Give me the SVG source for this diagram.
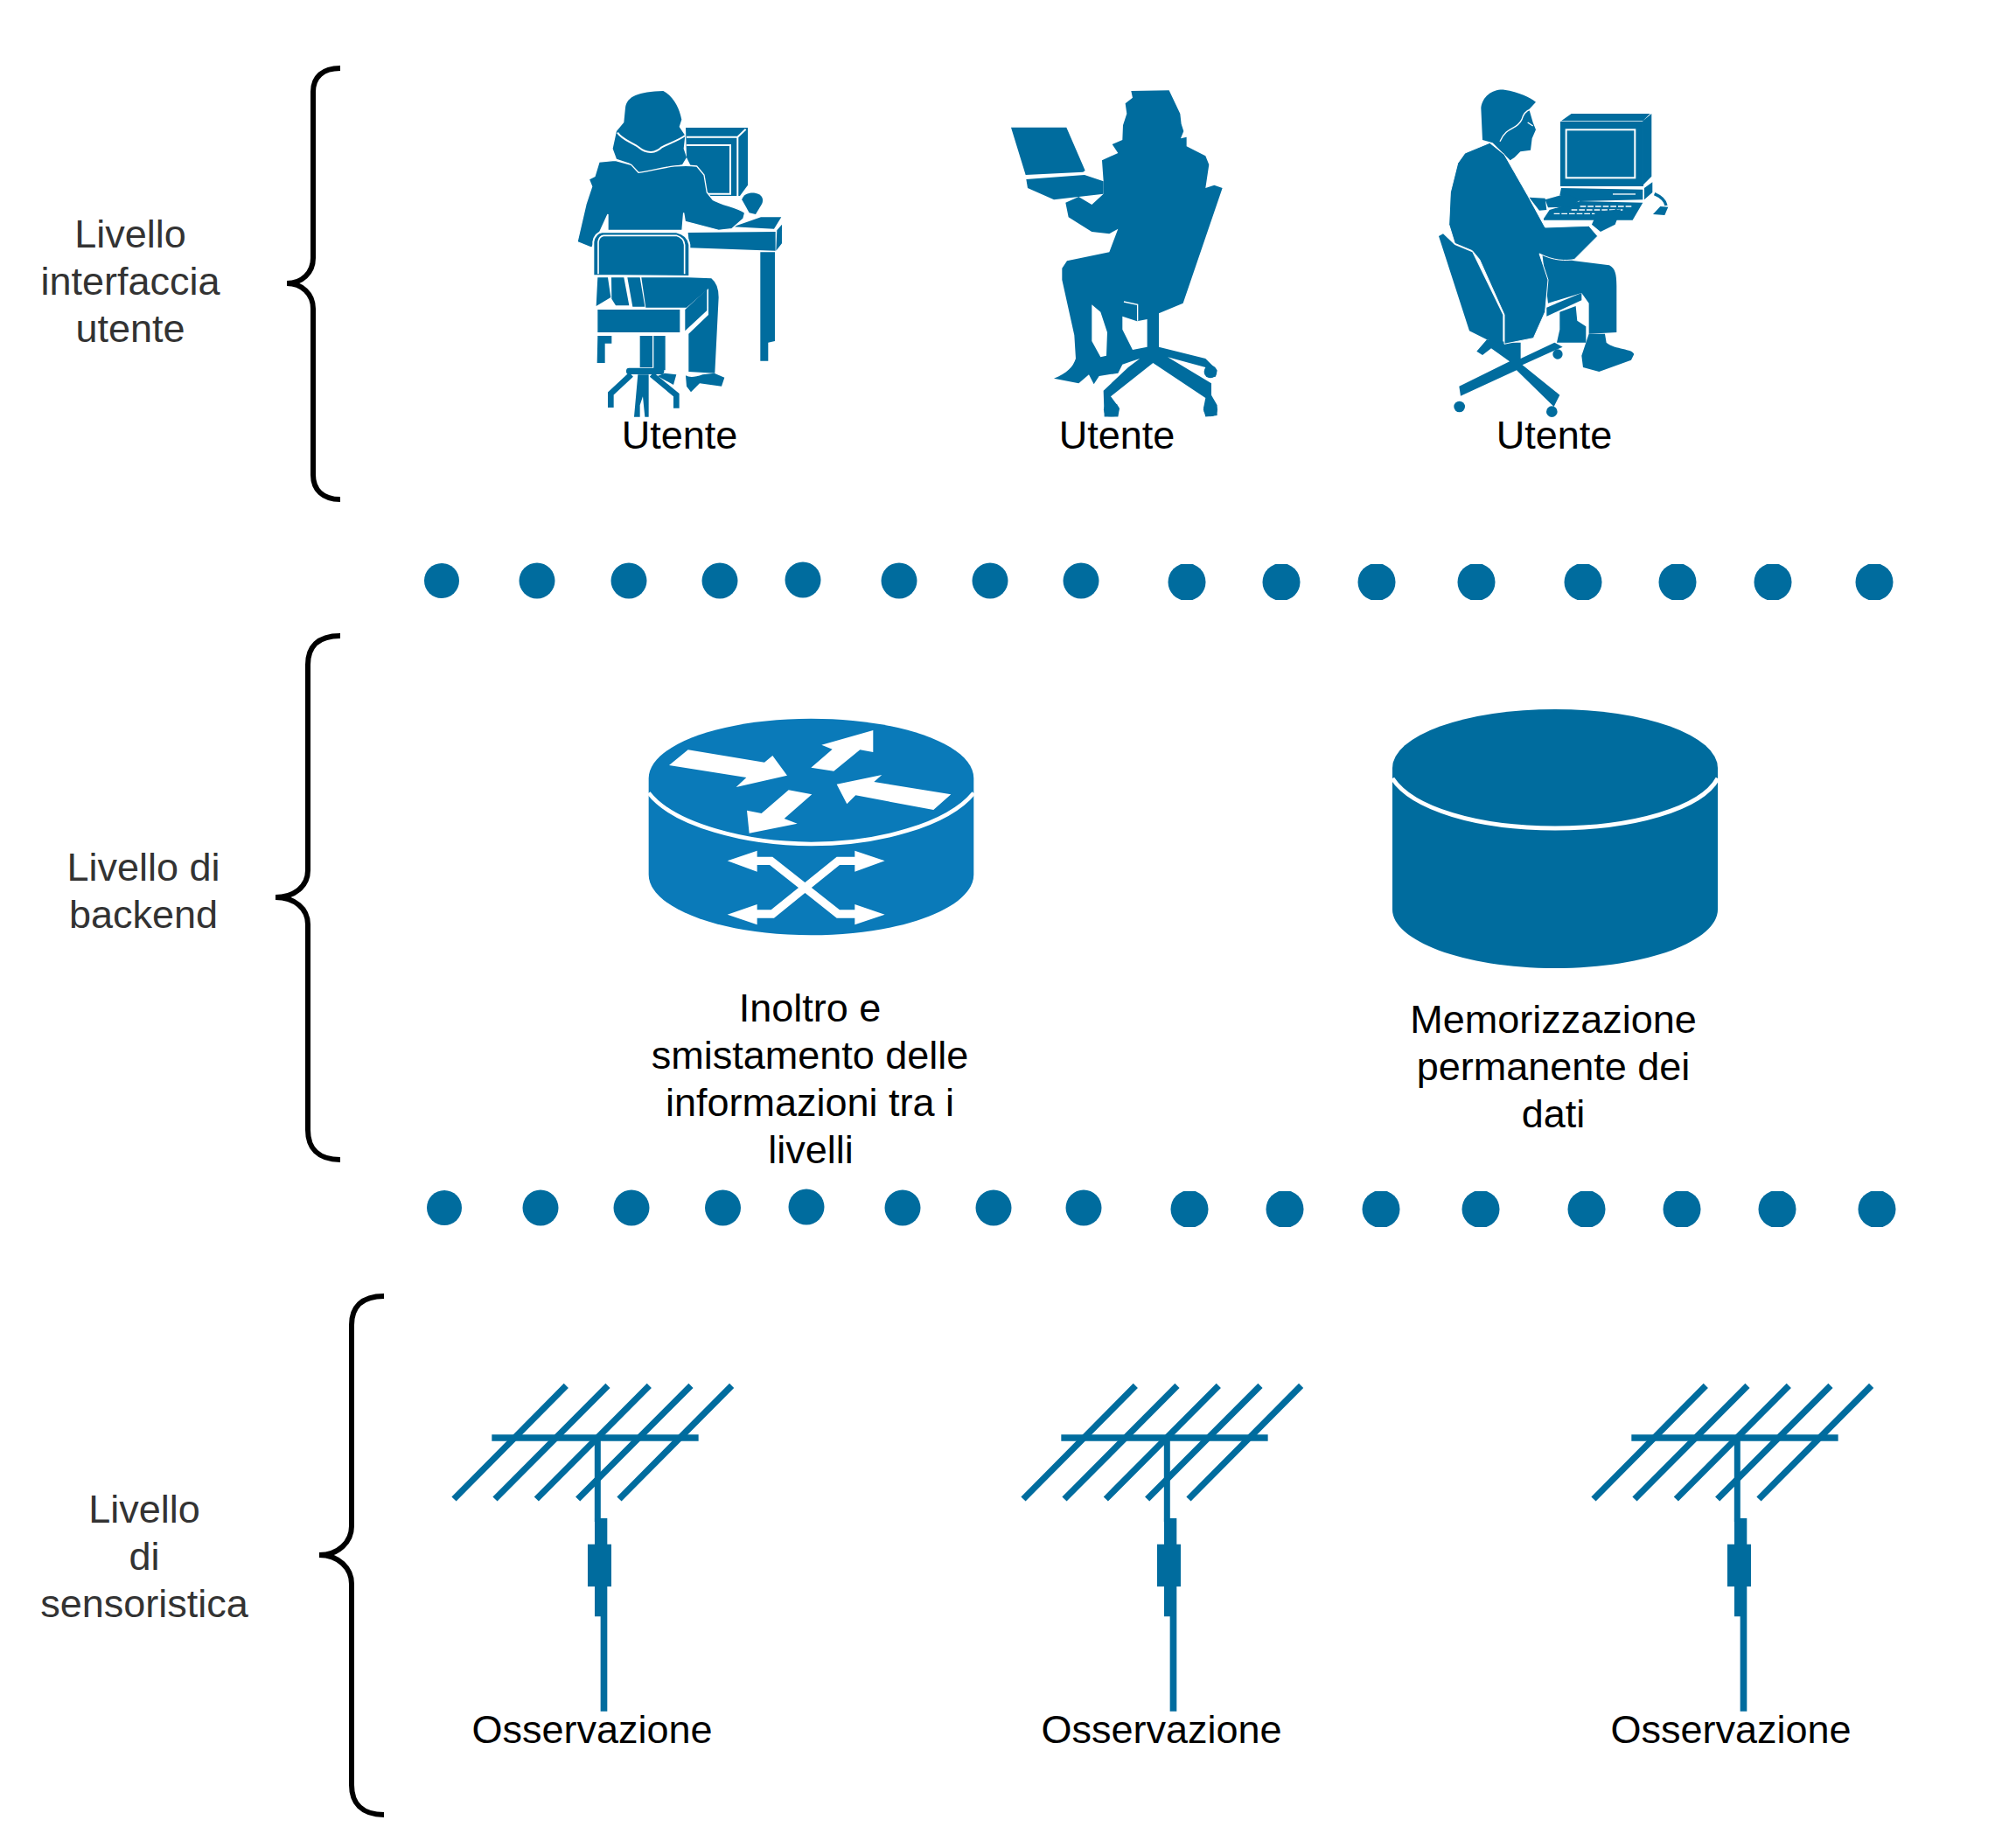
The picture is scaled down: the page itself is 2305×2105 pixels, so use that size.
<svg xmlns="http://www.w3.org/2000/svg" width="2305" height="2105" viewBox="0 0 2305 2105">
<style>
text{font-family:"Liberation Sans",Arial,sans-serif;font-size:45px;text-anchor:middle;fill:#000}
.lv{fill:#333}
.b{fill:none;stroke:#000;stroke-width:6}
.f{fill:#006c9e}
.w{fill:none;stroke:#fff;stroke-width:6}
.l{fill:none;stroke:#006c9e}
</style>
<defs>
<clipPath id="c1"><rect x="1300" y="645" width="900" height="41"/></clipPath>
<clipPath id="c2"><rect x="1300" y="1362" width="900" height="41"/></clipPath>
<g id="ant">
<path class="l" style="stroke-width:22" d="M57,462L442,73M198,462L585,73M340,462L727,73M482,462L870,73M624,462L1010,73"/>
<path class="l" style="stroke-width:22" d="M187,252H896"/>
<path class="l" style="stroke-width:21" d="M550,252V540"/>
<path class="f" d="M540,528H583V617H597V762H583V865H583V1190H560V865H540V762H516V617H540Z"/>
</g>
</defs>
<rect width="2305" height="2105" fill="#fff"/>
<g id="connectors">
<path class="b" d="M389,78C369,78 358,88 358,105V295C358,312 345,324 328,324C345,324 358,336 358,353V543C358,560 369,571 389,571"/>
<path class="b" d="M389,727C363,727 352,740 352,760V995C352,1013 337,1026 315,1026C337,1026 352,1039 352,1057V1292C352,1312 363,1326 389,1326"/>
<path class="b" d="M439,1482C413,1482 402,1495 402,1515V1745C402,1763 387,1778 365,1778C387,1778 402,1793 402,1811V2041C402,2061 413,2075 439,2075"/>
</g>
<g id="dots1" class="f">
<circle cx="505" cy="664" r="20"/><circle cx="614" cy="664" r="20.500"/><circle cx="719" cy="664" r="20.500"/><circle cx="823" cy="664" r="20.500"/><circle cx="918" cy="663" r="20.500"/><circle cx="1028" cy="664" r="20.500"/><circle cx="1132" cy="664" r="20.500"/><circle cx="1236" cy="664" r="20.500"/>
<g clip-path="url(#c1)"><circle cx="1357" cy="665.500" r="21.500"/><circle cx="1465" cy="665.500" r="21.500"/><circle cx="1574" cy="665.500" r="21.500"/><circle cx="1688" cy="665.500" r="21.500"/><circle cx="1810" cy="665.500" r="21.500"/><circle cx="1918" cy="665.500" r="21.500"/><circle cx="2027" cy="665.500" r="21.500"/><circle cx="2143" cy="665.500" r="21.500"/></g>
</g>
<g id="dots2" class="f">
<circle cx="508" cy="1381" r="20"/><circle cx="618" cy="1381" r="20.500"/><circle cx="722" cy="1381" r="20.500"/><circle cx="826.500" cy="1381" r="20.500"/><circle cx="922" cy="1380" r="20.500"/><circle cx="1032" cy="1381" r="20.500"/><circle cx="1136" cy="1381" r="20.500"/><circle cx="1239" cy="1381" r="20.500"/>
<g clip-path="url(#c2)"><circle cx="1360" cy="1382.500" r="21.500"/><circle cx="1469" cy="1382.500" r="21.500"/><circle cx="1579" cy="1382.500" r="21.500"/><circle cx="1693" cy="1382.500" r="21.500"/><circle cx="1814" cy="1382.500" r="21.500"/><circle cx="1923" cy="1382.500" r="21.500"/><circle cx="2032" cy="1382.500" r="21.500"/><circle cx="2146" cy="1382.500" r="21.500"/></g>
</g>
<g id="user1" transform="translate(630 80) scale(.3333)">
<path class="f" d="M462,198H675V395L648,432H530L465,300Z"/>
<path class="w" d="M465,230H640L668,203M640,230V435M465,258H615V425H535"/>
<path class="f" d="M718,625H768V930L745,935V998H718Z"/>
<path class="f" d="M470,558L770,555V620L475,610ZM775,550L792,530V595L772,620ZM625,538L720,505H790L765,545Z"/>
<path class="f" d="M655,445C660,425 680,420 700,422C725,425 732,445 722,462L702,495L680,490Z"/>
<path class="f" d="M255,130C260,90 300,75 385,72C420,90 440,130 448,170L440,195L460,225L455,270L465,300L450,325L400,335L300,355L270,320L225,305L212,270L225,210L250,180Z"/>
<path class="f" stroke="#fff" stroke-width="4" d="M165,315L220,310L275,325L300,352C360,345 420,320 500,330L525,360L535,420L555,445C590,465 640,470 665,490L660,510L620,545L575,550L460,520L455,490L450,550L195,550L195,495L170,550L140,610L90,590L120,460L140,400L130,375L150,365Z"/>
<path class="w" d="M228,215C245,240 280,250 300,265C330,290 360,285 380,265C410,250 440,240 460,225"/>
<path class="f" d="M160,712H195L205,780L155,810ZM207,712H250L268,808H222L208,785ZM262,712H305L322,812H280Z"/>
<path class="f" d="M470,712L550,715Q575,735 575,780L562,1040L472,1035V905L540,840V750L465,815H325L310,712Z"/>
<path class="f" stroke="#fff" stroke-width="6" d="M145,705V590Q150,560 175,556H430Q470,565 475,600V708Z"/>
<path class="w" style="stroke-width:5" d="M162,700V590Q165,570 180,568H430Q455,575 458,600V700"/>
<path class="f" d="M160,822H442V900H160ZM460,822L535,752V825L460,895ZM160,912H208V938H185V1005H158ZM305,912H348V1020H305ZM352,912H392V1030H352Z"/>
<path class="f" d="M462,1048Q480,1060 520,1045L560,1040L595,1055L585,1085L510,1075L480,1105L465,1085ZM390,1040L430,1045L420,1080L365,1050Z"/>
<rect class="f" x="258" y="1022" width="130" height="22" rx="10"/>
<path class="l" style="stroke-width:20" d="M275,1045L205,1110V1158M345,1045L430,1115V1160"/>
<path class="f" d="M285,1190L298,1045H335V1190H322L315,1120L305,1150V1190Z"/>
</g>
<g id="user2" transform="translate(1130 80) scale(.3333)">
<path class="f" d="M78,197H268L332,345L325,350L128,360ZM130,375L330,360L395,382V425L225,445L135,405Z"/>
<path class="f" d="M490,72L620,70L658,150L662,185L670,210L660,235L680,230V262L745,295L757,325L745,405L775,395L803,405L668,800L585,835V950L745,990L785,1030L780,1052L750,1050L745,1020L615,985L765,1075V1115L785,1150V1185L745,1190L738,1160L745,1125L565,1005L420,1120L450,1160L445,1190H398L395,1100L480,1020L520,990L490,1000L460,1010L445,1040L380,1050L362,1078L345,1045L310,1075L225,1058C270,1040 290,1020 300,990L295,910L253,720V680L270,655L415,625L445,545L415,562L355,555L275,505L265,455L310,435L355,462L395,425V380L390,310L445,285L425,255L460,240L462,190L475,150L470,115L495,95Z"/>
<circle class="f" cx="762" cy="1035" r="22"/><circle class="f" cx="762" cy="1165" r="24"/><circle class="f" cx="422" cy="1165" r="26"/>
<rect fill="#fff" x="380" y="1190" width="430" height="20"/>
<path fill="#fff" d="M355,805L385,830L408,900L405,980L385,985L355,930ZM460,845L510,862L545,855V950L495,960L460,890Z"/>
<path fill="none" stroke="#fff" stroke-width="4" d="M465,795L512,805V860"/>
</g>
<g id="user3" transform="translate(1620 80) scale(.3333)">
<path class="f" d="M495,175L530,150H800L775,175ZM775,175L805,150V365L775,395ZM780,405L808,385V420L780,445ZM495,405L775,410V445L560,450L490,430Z"/>
<rect class="f" x="492" y="177" width="285" height="222"/>
<rect class="w" x="512" y="205" width="236" height="165"/>
<path class="f" d="M435,510L455,480L560,450L775,455L740,515H435Z"/>
<path class="l" style="stroke-width:10" d="M815,425Q850,440 855,465"/>
<path class="f" d="M810,495L835,468L862,470L850,498Z"/>
<path fill="none" stroke="#fff" stroke-width="4" stroke-dasharray="20 6" d="M560,468H740M530,480H710M470,493H610"/>
<path fill="none" stroke="#fff" stroke-width="4" d="M672,426H750"/>
<path class="f" d="M328,935H356V990L472,935L500,950L362,1012L490,1115L470,1155L342,1030L150,1118L145,1085L318,1000L255,955L225,978L205,965L240,925Z"/>
<circle class="f" cx="146" cy="1155" r="19"/><circle class="f" cx="463" cy="1172" r="19"/><circle class="f" cx="483" cy="975" r="17"/>
<rect fill="#fff" x="430" y="1191" width="70" height="12"/>
<path class="f" d="M445,815L565,765V790L445,845ZM490,830L545,810L550,860L580,880V935H480L490,890Z"/>
<path class="f" d="M430,630L540,655L660,670C680,680 685,700 685,740V900L590,905V800L565,765L450,800Z"/>
<path class="f" d="M590,905H645L650,935C680,960 740,955 745,975L735,995L625,1035L570,1020L565,980Z"/>
<path class="f" d="M385,437L440,440L445,480L420,482ZM440,445L510,425L560,445L530,470L450,472ZM620,485L700,478L680,530L630,555L600,530Z"/>
<path class="f" d="M75,570L90,562L130,600L190,625L295,840V940L240,925L180,895Z"/>
<path class="f" d="M220,130C225,90 260,65 300,68C350,75 390,95 408,110L385,135L398,180L408,205L395,235L390,275L355,280L335,300L320,310L260,250L225,240Z"/>
<path class="w" style="stroke-width:4" d="M285,245C310,190 340,210 360,170C365,150 375,140 390,135M380,180L398,192"/>
<path class="f" stroke="#fff" stroke-width="3" d="M250,250L300,290L380,430L440,540L590,535L620,570L540,650C510,655 470,655 420,630L450,720L440,830L400,920L300,940V840L215,650L190,620L130,595L110,530L115,420L140,320L165,285Z"/>
</g>
<g id="router" transform="translate(720 800) scale(.3333)">
<path fill="#0a7ab9" d="M65,270V600C65,715 315,808 622,808C930,808 1180,715 1180,600V270C1180,155 930,65 622,65C315,65 65,155 65,270Z"/>
<path fill="none" stroke="#fff" stroke-width="14" d="M65,320C150,430 400,495 622,495C850,495 1090,430 1180,320"/>
<path fill="#fff" d="M135,225L200,172L462,215L490,192L540,260L365,300L400,267ZM622,233L695,170L658,155L835,105V180L790,172L700,245ZM710,290L865,258L838,282L1102,325L1042,378L775,328L745,358ZM545,310L625,325L530,408L575,425L410,458L402,380L452,390ZM335,553L437,518V590ZM875,553L772,518V590ZM335,737L437,702V772ZM875,737L772,702V772Z"/>
<path fill="none" stroke="#fff" stroke-width="28" d="M430,553H485L715,735H780M430,735H490L715,553H780"/>
</g>
<g id="db" class="f">
<path d="M1592,878V1040C1592,1075 1672,1107 1778,1107C1885,1107 1964,1075 1964,1040V878Z"/>
<ellipse cx="1778" cy="878" rx="186" ry="67"/>
<path fill="none" stroke="#fff" stroke-width="5" d="M1592,890C1615,925 1690,947 1778,947C1866,947 1945,925 1964,890"/>
</g>
<g id="ant1" transform="translate(500 1560) scale(.3333)"><use href="#ant"/></g>
<g id="ant2" transform="translate(1151 1560) scale(.3333)"><use href="#ant"/></g>
<g id="ant3" transform="translate(1803 1560) scale(.3333)"><use href="#ant"/></g>
<g id="labels">
<text x="777" y="513">Utente</text><text x="1277" y="513">Utente</text><text x="1777" y="513">Utente</text>
<text class="lv" x="149" y="283">Livello</text><text class="lv" x="149" y="337">interfaccia</text><text class="lv" x="149" y="391">utente</text>
<text class="lv" x="164" y="1007">Livello di</text><text class="lv" x="164" y="1061">backend</text>
<text class="lv" x="165" y="1741">Livello</text><text class="lv" x="165" y="1795">di</text><text class="lv" x="165" y="1849">sensoristica</text>
<text x="926" y="1168">Inoltro e</text><text x="926" y="1222">smistamento delle</text><text x="926" y="1276">informazioni tra i</text><text x="927" y="1330">livelli</text>
<text x="1776" y="1181">Memorizzazione</text><text x="1776" y="1235">permanente dei</text><text x="1776" y="1289">dati</text>
<text x="677" y="1993">Osservazione</text><text x="1328" y="1993">Osservazione</text><text x="1979" y="1993">Osservazione</text>
</g>
</svg>
